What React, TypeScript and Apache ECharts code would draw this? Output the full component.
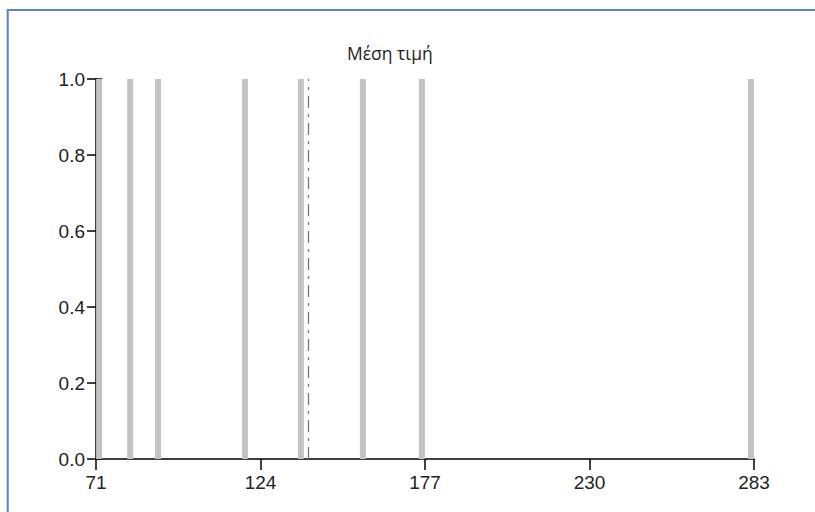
import React, { useEffect, useRef } from "react";
import * as echarts from "echarts";

const X_MIN = 71;
const X_MAX = 283;
const X_STEP = 53;
const values = [72, 82, 91, 119, 137, 157, 176, 282];
const yTicks = [0, 0.2, 0.4, 0.6, 0.8, 1.0];
const meanLabel = "Μέση τιμή";

export default function App() {
  const ref = useRef<HTMLDivElement>(null);
  useEffect(() => {
    if (!ref.current) return;
    const chart = echarts.init(ref.current, null, { renderer: "svg" });
    const mean = values.reduce((a, b) => a + b, 0) / values.length;
    const axisLine = { show: true, lineStyle: { color: "#000", width: 1.5 } };
    const labelStyle = { color: "#222", fontSize: 19, fontFamily: "Liberation Sans, Arial, sans-serif" };
    chart.setOption({
      animation: false,
      backgroundColor: "#fff",
      title: {
        text: meanLabel,
        left: 342,
        top: 39,
        textStyle: { fontFamily: "Open Sans, sans-serif", fontSize: 17.5, fontWeight: "normal", color: "#222" },
      },
      grid: { left: 96, right: 61, top: 79, bottom: 53, containLabel: false },
      xAxis: {
        type: "value",
        min: 0,
        max: X_MAX - X_MIN,
        interval: X_STEP,
        axisLine,
        axisTick: { show: true, length: 11, lineStyle: { color: "#000", width: 1.5 } },
        axisLabel: { ...labelStyle, margin: 14, formatter: (v: number) => String(v + X_MIN) },
        splitLine: { show: false },
      },
      yAxis: [
        {
          type: "value",
          min: yTicks[0],
          max: yTicks[yTicks.length - 1],
          interval: 0.2,
          axisLine,
          axisTick: { show: true, length: 9, lineStyle: { color: "#000", width: 1.5 } },
          axisLabel: { ...labelStyle, margin: 11, formatter: (v: number) => v.toFixed(1) },
          splitLine: { show: false },
        },
        {
          type: "value",
          position: "left",
          min: yTicks[0],
          max: yTicks[yTicks.length - 1],
          interval: 0.2,
          axisLine: { show: false },
          axisTick: { show: true, inside: true, length: 6, lineStyle: { color: "#000", width: 1.5 } },
          axisLabel: { show: false },
          splitLine: { show: false },
        },
      ],
      series: [
        {
          type: "custom",
          data: values.map((v) => [v - X_MIN, 1]),
          renderItem: (params: any, api: any) => {
            const x = api.value(0);
            const top = api.coord([x, api.value(1)]);
            const bottom = api.coord([x, 0]);
            return {
              type: "rect",
              shape: { x: top[0] - 3, y: top[1], width: 6, height: bottom[1] - top[1] },
              style: { fill: "#c3c3c3" },
              z2: 0,
            };
          },
          z: 1,
          markLine: {
            silent: true,
            symbol: "none",
            label: { show: false },
            lineStyle: { color: "#777", width: 1.3, type: [12, 6, 3, 6] },
            data: [
              [
                { coord: [mean - X_MIN, 0] },
                { coord: [mean - X_MIN, 1] },
              ],
            ],
          },
        },
      ],
      graphic: [
        {
          type: "rect",
          shape: { x: 7.7, y: 10, width: 1000, height: 800 },
          style: { fill: "none", stroke: "#5585c5", lineWidth: 2 },
          silent: true,
        },
      ],
    });
    return () => chart.dispose();
  }, []);
  return (
    <div
      ref={ref}
      style={{ position: "fixed", left: 0, top: 0, width: 815, height: 512 }}
    />
  );
}
